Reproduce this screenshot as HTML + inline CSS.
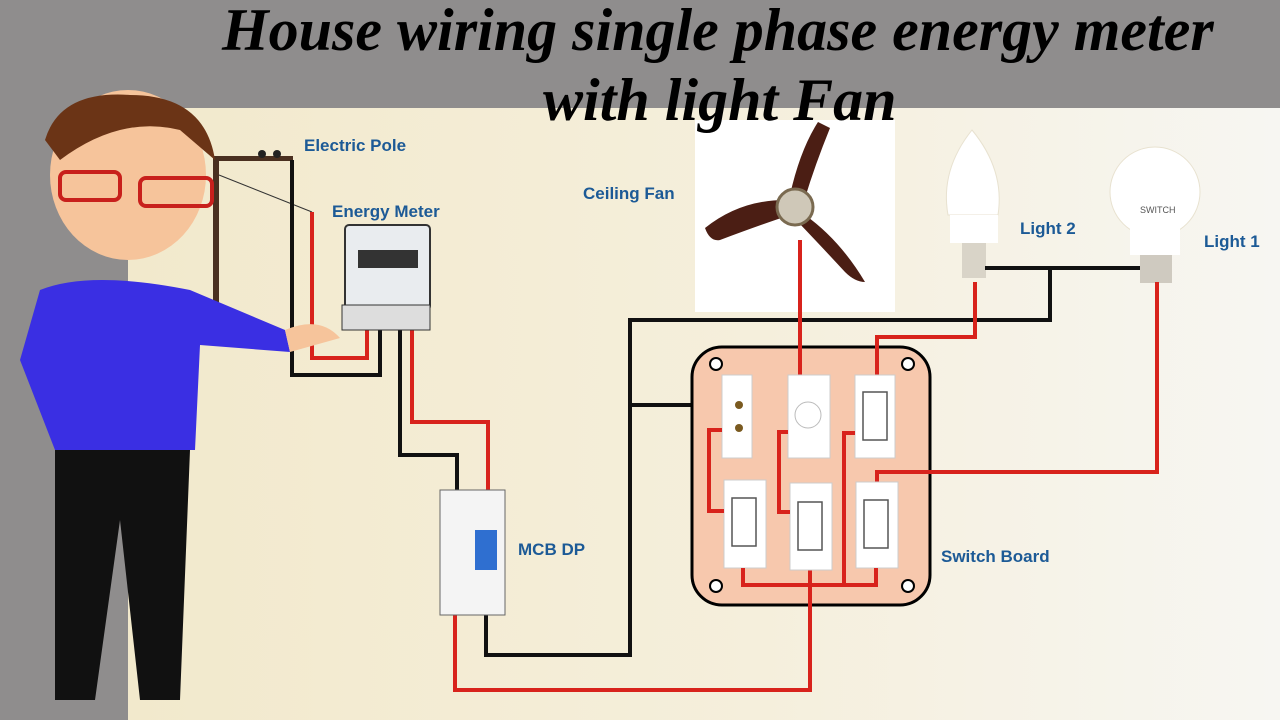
<!DOCTYPE html>
<html><head><style>
body{margin:0;width:1280px;height:720px;overflow:hidden;position:relative;background:#8f8d8d;font-family:"Liberation Sans",sans-serif}
.t{position:absolute;font-family:"Liberation Serif",serif;font-style:italic;font-weight:bold;color:#000;white-space:nowrap}
.l{position:absolute;color:#1c5a96;font-weight:bold;font-size:17px;white-space:nowrap}
</style></head><body>
<svg width="1280" height="720" style="position:absolute;left:0;top:0">
<defs><linearGradient id="bg" x1="0" x2="1"><stop offset="0" stop-color="#f2e9cc"/><stop offset="0.55" stop-color="#f5efdc"/><stop offset="1" stop-color="#f7f6f2"/></linearGradient></defs>
<rect x="0" y="0" width="1280" height="108" fill="#8f8d8d"/>
<rect x="128" y="108" width="1152" height="612" fill="url(#bg)"/>
<rect x="0" y="108" width="128" height="612" fill="#8f8d8d"/>
<!-- pole -->
<rect x="213" y="157" width="6" height="185" fill="#4a3020"/>
<rect x="213" y="156" width="80" height="5" fill="#4a3020"/>
<circle cx="262" cy="154" r="4" fill="#222"/><circle cx="277" cy="154" r="4" fill="#222"/>
<path d="M219 175 L312 212" stroke="#333" stroke-width="1" fill="none"/>
<!-- fan box -->
<rect x="695" y="120" width="200" height="192" fill="#fff"/>
<path d="M785 200 Q740 200 705 228 Q710 242 720 240 Q760 225 790 215Z" fill="#4b1e14"/>
<path d="M790 195 Q800 150 818 122 L830 128 Q815 165 805 198Z" fill="#4b1e14"/>
<path d="M805 215 Q840 240 865 282 Q855 282 845 272 Q820 245 798 222Z" fill="#4b1e14"/>
<circle cx="795" cy="207" r="18" fill="#cfc8b8" stroke="#7a6a50" stroke-width="3"/>
<!-- lights -->
<path d="M972 130 Q1005 170 998 215 L948 215 Q940 170 972 130Z" fill="#fff" stroke="#e8e2d0"/>
<rect x="950" y="215" width="48" height="28" fill="#fff"/>
<rect x="962" y="243" width="24" height="35" fill="#d9d4c8"/>
<circle cx="1155" cy="192" r="45" fill="#fff" stroke="#e8e2d0"/>
<rect x="1130" y="210" width="50" height="45" fill="#fff"/>
<rect x="1140" y="255" width="32" height="28" fill="#cfcac0"/>
<text x="1140" y="213" font-size="9" fill="#555">SWITCH</text>
<!-- wires black -->
<g stroke="#111" stroke-width="4" fill="none">
<path d="M292 160 V375 H380 V322"/>
<path d="M400 322 V455 H457 V492"/>
<path d="M486 612 V655 H630 V320 H1050 V268 H1140"/>
<path d="M985 268 H1050"/>
<path d="M630 405 H725"/>
</g>
<g stroke="#d8231c" stroke-width="4" fill="none">
<path d="M312 212 V358 H367 V322"/>
<path d="M412 322 V422 H488 V492"/>
<path d="M455 612 V690 H810 V600"/>
<path d="M800 240 V350"/>
<path d="M975 282 V337 H877 V350"/>
</g>
<!-- meter -->
<rect x="345" y="225" width="85" height="85" rx="4" fill="#e9ecef" stroke="#333" stroke-width="2"/>
<rect x="358" y="250" width="60" height="18" fill="#333"/>
<rect x="342" y="305" width="88" height="25" fill="#ddd" stroke="#333"/>
<!-- MCB -->
<rect x="440" y="490" width="65" height="125" fill="#f4f4f4" stroke="#666"/>
<rect x="475" y="530" width="22" height="40" fill="#2f6fd0"/>
<!-- switch board -->
<rect x="692" y="347" width="238" height="258" rx="30" fill="#f7c8ad" stroke="#000" stroke-width="3"/>
<g stroke="#d8231c" stroke-width="4" fill="none">
<path d="M800 345 V375"/>
<path d="M877 345 V375"/>
<path d="M1157 282 V472 H877 V485"/>
<path d="M810 568 V610"/>
</g>
<g fill="#fff" stroke="#000" stroke-width="2"><circle cx="716" cy="364" r="6"/><circle cx="908" cy="364" r="6"/><circle cx="716" cy="586" r="6"/><circle cx="908" cy="586" r="6"/></g>
<g fill="#fff" stroke="#ccc"><rect x="722" y="375" width="30" height="83"/><rect x="788" y="375" width="42" height="83"/><rect x="855" y="375" width="40" height="83"/>
<rect x="724" y="480" width="42" height="88"/><rect x="790" y="483" width="42" height="87"/><rect x="856" y="482" width="42" height="86"/></g>
<g fill="#fff" stroke="#555" stroke-width="1.5"><rect x="863" y="392" width="24" height="48"/><rect x="732" y="498" width="24" height="48"/><rect x="798" y="502" width="24" height="48"/><rect x="864" y="500" width="24" height="48"/></g>
<circle cx="739" cy="405" r="4" fill="#7a5a20"/><circle cx="739" cy="428" r="4" fill="#7a5a20"/>
<circle cx="808" cy="415" r="13" fill="#fff" stroke="#bbb"/>
<g stroke="#d8231c" stroke-width="4" fill="none">
<path d="M722 430 H709 V511 H724"/>
<path d="M788 432 H779 V512 H790"/>
<path d="M855 433 H844 V585"/>
<path d="M743 568 V585 H876 V568"/>
</g>
<!-- man -->
<ellipse cx="128" cy="175" rx="78" ry="85" fill="#f6c49b"/>
<path d="M45 140 Q60 90 130 95 Q205 95 215 160 L180 130 Q120 115 60 160Z" fill="#6b3416"/>
<g stroke="#c8201c" stroke-width="4" fill="none"><rect x="60" y="172" width="60" height="28" rx="6"/><rect x="140" y="178" width="72" height="28" rx="6"/></g>
<path d="M40 290 Q90 270 190 290 L285 330 L290 352 L200 345 L195 450 L55 450 L20 360Z" fill="#3a2fe3"/>
<path d="M285 330 Q320 315 340 338 L290 352Z" fill="#f6c49b"/>
<path d="M55 450 H190 L180 700 H140 L120 520 L95 700 H55Z" fill="#111"/>
</svg>
<div class="t" style="left:222px;top:-4px;font-size:60px">House wiring single phase energy meter</div>
<div class="t" style="left:543px;top:66px;font-size:60px">with light Fan</div>
<div class="l" style="left:304px;top:136px">Electric Pole</div>
<div class="l" style="left:332px;top:202px">Energy Meter</div>
<div class="l" style="left:583px;top:184px">Ceiling Fan</div>
<div class="l" style="left:1020px;top:219px">Light 2</div>
<div class="l" style="left:1204px;top:232px">Light 1</div>
<div class="l" style="left:518px;top:540px">MCB DP</div>
<div class="l" style="left:941px;top:547px">Switch Board</div>
</body></html>
